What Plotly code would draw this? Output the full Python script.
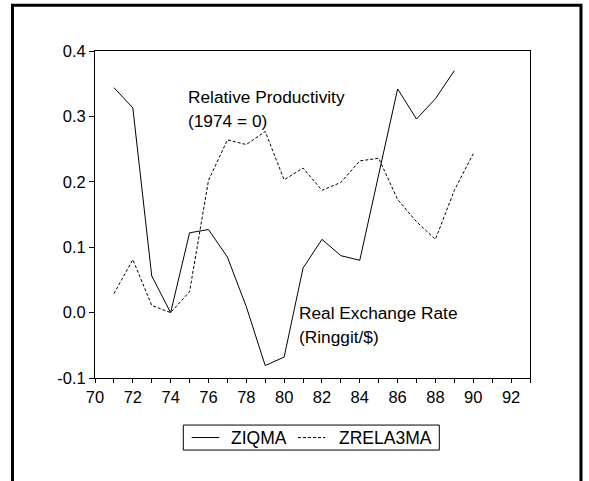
import plotly.graph_objects as go

# years on the x axis (19xx, shown as two digits)
years = list(range(71, 91))

# relative productivity / real exchange rate series (1974 = 0)
ziqma = [0.344, 0.313, 0.056, 0.0, 0.122, 0.127, 0.085, 0.009, -0.081, -0.068,
         0.068, 0.112, 0.087, 0.080, 0.211, 0.342, 0.296, 0.327, 0.370, None]
zrela3ma = [0.029, 0.081, 0.011, 0.0, 0.032, 0.202, 0.264, 0.257, 0.277, 0.203,
            0.221, 0.187, 0.199, 0.232, 0.236, 0.173, 0.139, 0.112, 0.187, 0.243]

ytick_vals = [0.4, 0.3, 0.2, 0.1, 0.0, -0.1]
ytick_text = ["0.4", "0.3", "0.2", "0.1", "0.0", "-0.1"]

FONT = "Liberation Sans, Arial, sans-serif"
DASH = "3px,2px"

fig = go.Figure()
fig.add_trace(go.Scatter(x=years, y=ziqma, mode="lines", name="ZIQMA",
                         line=dict(color="black", width=1)))
fig.add_trace(go.Scatter(x=years, y=zrela3ma, mode="lines", name="ZRELA3MA",
                         line=dict(color="black", width=1, dash=DASH)))

# text labels inside the plot
labels = [
    (74.85, 0.329, "Relative Productivity"),
    (74.85, 0.293, "(1974 = 0)"),
    (80.72, 0.000, "Real Exchange Rate"),
    (80.72, -0.037, "(Ringgit/$)"),
]
for lx, ly, txt in labels:
    fig.add_annotation(x=lx, y=ly, text=txt, showarrow=False, xanchor="left",
                       yanchor="middle", borderpad=0,
                       font=dict(family=FONT, size=17.3, color="black"))

# outer frame (open at the bottom, runs off the page)
fig.add_shape(type="rect", xref="paper", yref="paper",
              x0=-0.1897, x1=1.1172, y0=-0.36, y1=1.1402,
              line=dict(color="black", width=3))

# legend box drawn by hand, EViews style
fig.add_shape(type="rect", xref="paper", yref="paper",
              x0=0.203, x1=0.7915, y0=-0.2204, y1=-0.1439,
              line=dict(color="black", width=1))
fig.add_shape(type="line", xref="paper", yref="paper",
              x0=0.2223, x1=0.2857, y0=-0.1821, y1=-0.1821,
              line=dict(color="black", width=1))
fig.add_shape(type="line", xref="paper", yref="paper",
              x0=0.4667, x1=0.5287, y0=-0.1821, y1=-0.1821,
              line=dict(color="black", width=1, dash=DASH))
for lx, txt in [(0.3103, "ZIQMA"), (0.5586, "ZRELA3MA")]:
    fig.add_annotation(xref="paper", yref="paper", x=lx, y=-0.1821, text=txt,
                       showarrow=False, xanchor="left", yanchor="middle", borderpad=0,
                       font=dict(family=FONT, size=17.5, color="black"))

fig.update_xaxes(range=[70, 93], dtick=2, tick0=70, ticks="outside", ticklen=4,
                 minor=dict(dtick=1, ticks="outside", ticklen=4, tickcolor="black"),
                 showline=True, linecolor="black", linewidth=1, mirror=True,
                 showgrid=False, zeroline=False, tickcolor="black",
                 tickfont=dict(family=FONT, size=16.5, color="black"))
fig.update_yaxes(range=[-0.1, 0.4], tickvals=ytick_vals, ticktext=ytick_text,
                 ticks="outside", ticklen=5, tickcolor="black",
                 showline=True, linecolor="black", linewidth=1, mirror=True,
                 showgrid=False, zeroline=False,
                 tickfont=dict(family=FONT, size=16.5, color="black"))

fig.update_layout(
    width=589, height=481,
    margin=dict(l=95, r=59, t=51, b=103),
    paper_bgcolor="white", plot_bgcolor="white",
    showlegend=False,
)

fig.write_html("out.html", config={"displayModeBar": False},
               post_script="document.body.style.margin='0';document.body.style.overflow='hidden';")
